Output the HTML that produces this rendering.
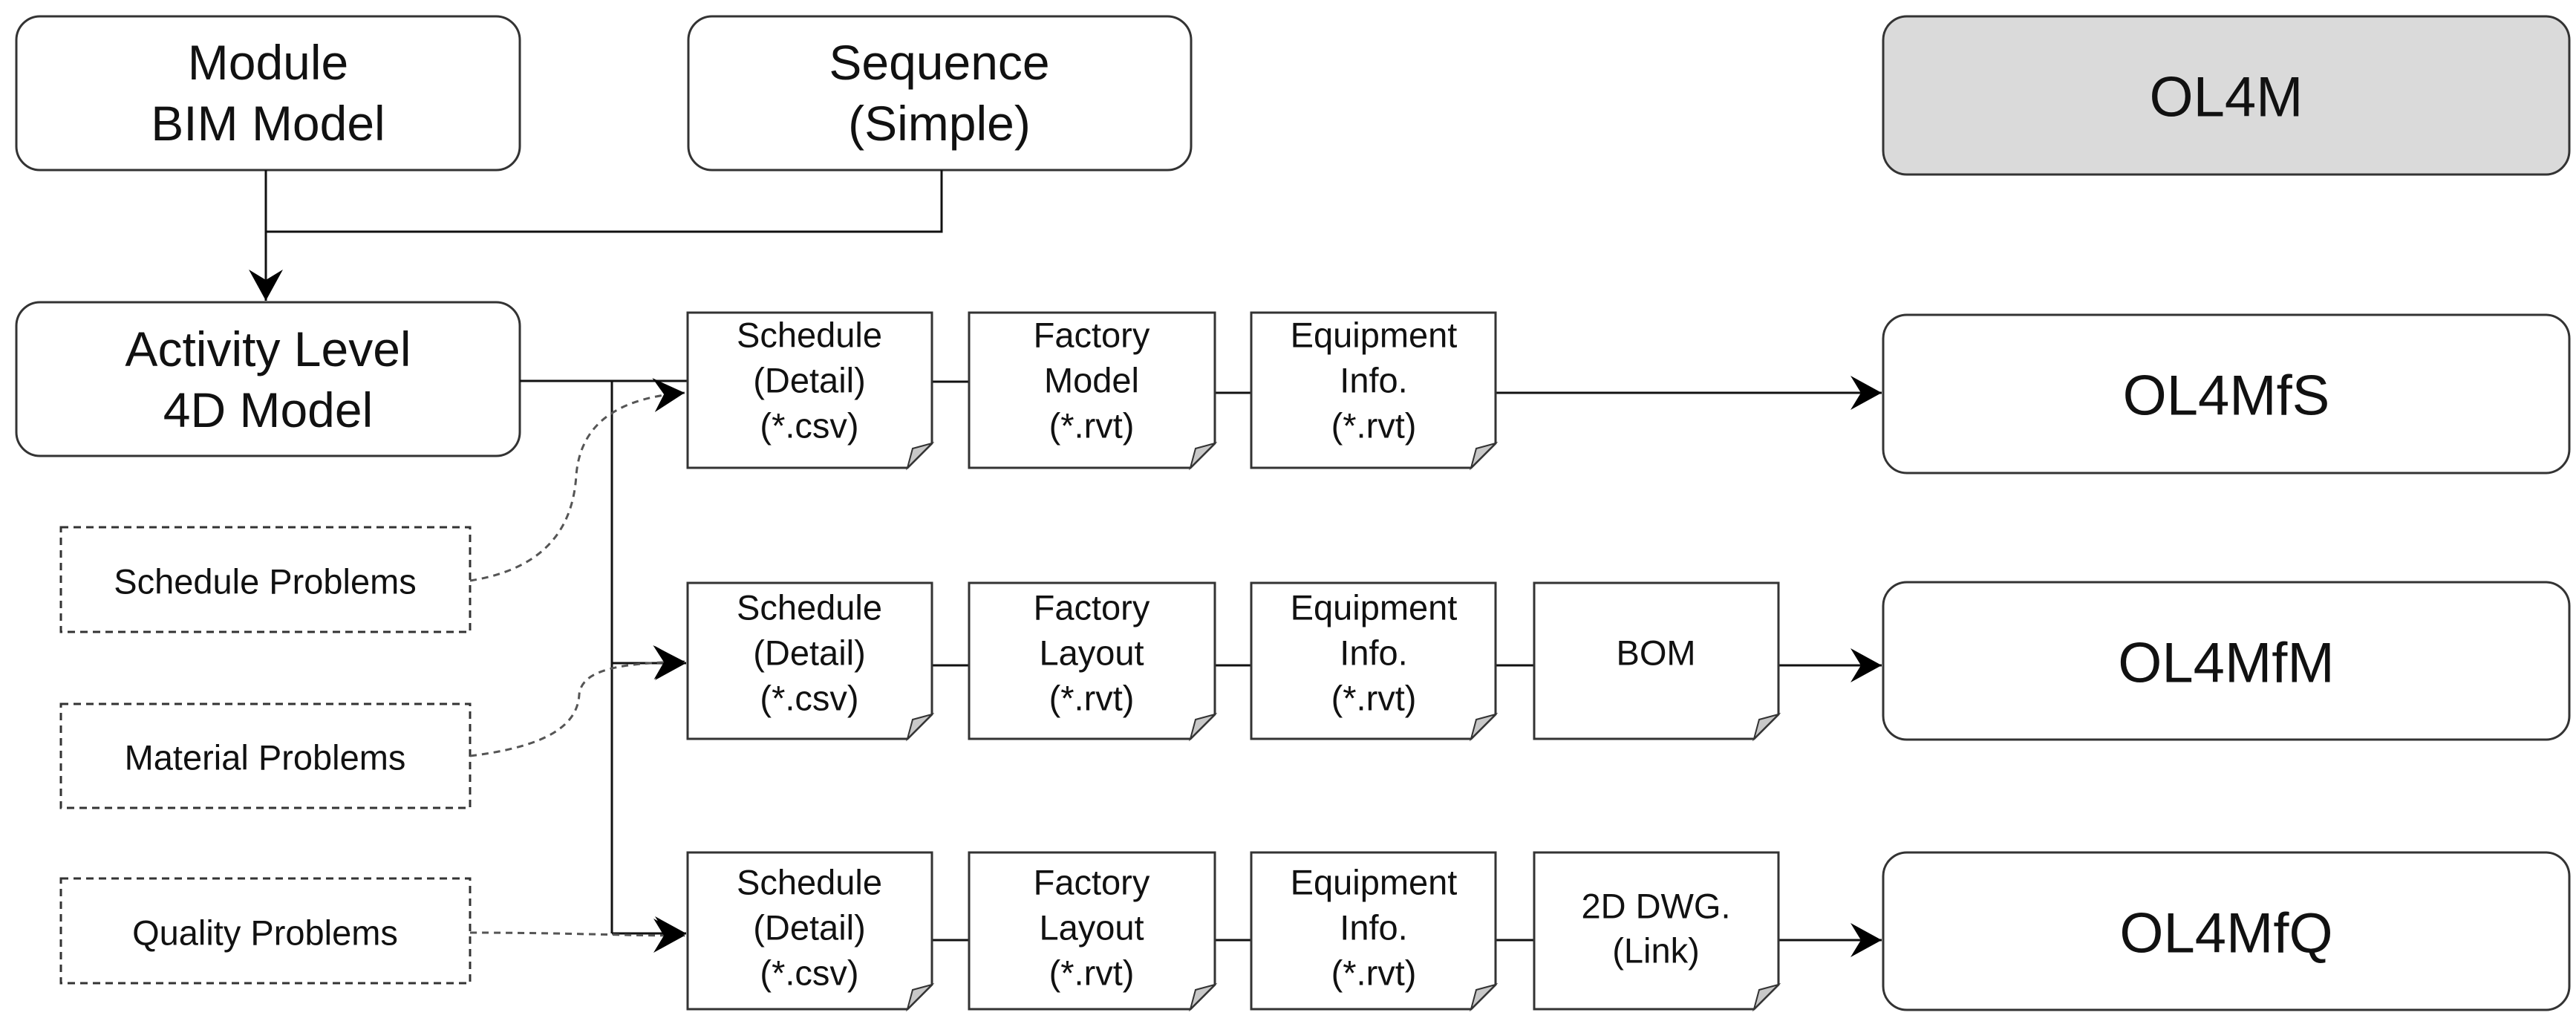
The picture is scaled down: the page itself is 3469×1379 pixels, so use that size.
<!DOCTYPE html>
<html><head><meta charset="utf-8"><style>
html,body{margin:0;padding:0;background:#fff}
svg{display:block}
text{font-family:"Liberation Sans","Noto Sans CJK KR",sans-serif;fill:#111;text-anchor:middle;dominant-baseline:central}
</style></head><body>
<svg width="3469" height="1379" viewBox="0 0 3469 1379" xmlns="http://www.w3.org/2000/svg">
<defs>
<marker id="ah" markerWidth="44" markerHeight="46" refX="42" refY="23" orient="auto" markerUnits="userSpaceOnUse">
<path d="M0,0 L42,23 L0,46 L14,23 Z" fill="#000"/>
</marker>
</defs>
<g stroke="#333" stroke-width="3" fill="#fff">
<rect x="22" y="22" width="678" height="207" rx="32"/>
<rect x="927" y="22" width="677" height="207" rx="32"/>
<rect x="2536" y="22" width="924" height="213" rx="32" fill="#dadada"/>
<rect x="22" y="407" width="678" height="207" rx="32"/>
<rect x="2536" y="424" width="924" height="213" rx="32"/>
<rect x="2536" y="784" width="924" height="212" rx="32"/>
<rect x="2536" y="1148" width="924" height="212" rx="32"/>
</g>
<g stroke="#333" stroke-width="3" fill="#fff" stroke-dasharray="10,7">
<rect x="82" y="710" width="551" height="141"/>
<rect x="82" y="948" width="551" height="140"/>
<rect x="82" y="1183" width="551" height="141"/>
</g>
<g stroke="#111" stroke-width="3" fill="none">
<path d="M358,229 V405" marker-end="url(#ah)"/>
<path d="M358,312 H1268 V229"/>
<path d="M700,513 H926"/>
<path d="M824,513 V1257"/>
<path d="M824,893 H924" marker-end="url(#ah)"/>
<path d="M824,1257 H924" marker-end="url(#ah)"/>
<path d="M1255,514 H1305"/>
<path d="M1636,529 H1685"/>
<path d="M2014,529 H2534" marker-end="url(#ah)"/>
<path d="M1255,896 H1305"/><path d="M1636,896 H1685"/><path d="M2014,896 H2066"/>
<path d="M2395,896 H2534" marker-end="url(#ah)"/>
<path d="M1255,1266 H1305"/><path d="M1636,1266 H1685"/><path d="M2014,1266 H2066"/>
<path d="M2395,1266 H2534" marker-end="url(#ah)"/>
</g>
<g stroke="#555" stroke-width="3" fill="none" stroke-dasharray="9,7">
<path d="M633,782 C740,765 772,705 776,640 C782,565 840,535 922,529" marker-end="url(#ah)"/>
<path d="M633,1018 C740,1005 778,975 780,935 C784,900 840,893 922,891" marker-end="url(#ah)"/>
<path d="M633,1256 C760,1256 840,1260 922,1260" marker-end="url(#ah)"/>
</g>
<g stroke="#333" stroke-width="3" fill="#fff">
<path d="M926,421 H1255 V597 L1222,630 H926 Z"/>
<path d="M1305,421 H1636 V597 L1603,630 H1305 Z"/>
<path d="M1685,421 H2014 V597 L1981,630 H1685 Z"/>
<path d="M926,785 H1255 V962 L1222,995 H926 Z"/>
<path d="M1305,785 H1636 V962 L1603,995 H1305 Z"/>
<path d="M1685,785 H2014 V962 L1981,995 H1685 Z"/>
<path d="M2066,785 H2395 V962 L2362,995 H2066 Z"/>
<path d="M926,1148 H1255 V1326 L1222,1359 H926 Z"/>
<path d="M1305,1148 H1636 V1326 L1603,1359 H1305 Z"/>
<path d="M1685,1148 H2014 V1326 L1981,1359 H1685 Z"/>
<path d="M2066,1148 H2395 V1326 L2362,1359 H2066 Z"/>
</g>
<g stroke="#333" stroke-width="2" fill="#c8c8c8">
<path d="M1255,597 L1222,630 L1229,604 Z"/>
<path d="M1636,597 L1603,630 L1610,604 Z"/>
<path d="M2014,597 L1981,630 L1988,604 Z"/>
<path d="M1255,962 L1222,995 L1229,969 Z"/>
<path d="M1636,962 L1603,995 L1610,969 Z"/>
<path d="M2014,962 L1981,995 L1988,969 Z"/>
<path d="M2395,962 L2362,995 L2369,969 Z"/>
<path d="M1255,1326 L1222,1359 L1229,1333 Z"/>
<path d="M1636,1326 L1603,1359 L1610,1333 Z"/>
<path d="M2014,1326 L1981,1359 L1988,1333 Z"/>
<path d="M2395,1326 L2362,1359 L2369,1333 Z"/>
</g>
<g font-size="66">
<text x="361" y="84">Module</text><text x="361" y="166">BIM Model</text>
<text x="1265" y="84">Sequence</text><text x="1265" y="166">(Simple)</text>
<text x="361" y="470">Activity Level</text><text x="361" y="552">4D Model</text>
</g>
<g font-size="76">
<text x="2998" y="131">OL4M</text>
<text x="2998" y="533">OL4MfS</text>
<text x="2998" y="893">OL4MfM</text>
<text x="2998" y="1257">OL4MfQ</text>
</g>
<g font-size="47">
<text x="357" y="783">Schedule Problems</text>
<text x="357" y="1020">Material Problems</text>
<text x="357" y="1256">Quality Problems</text>
</g>
<g font-size="47">
<text x="1090" y="451">Schedule</text><text x="1090" y="512">(Detail)</text><text x="1090" y="573">(*.csv)</text>
<text x="1470" y="451">Factory</text><text x="1470" y="512">Model</text><text x="1470" y="573">(*.rvt)</text>
<text x="1850" y="451">Equipment</text><text x="1850" y="512">Info.</text><text x="1850" y="573">(*.rvt)</text>
<text x="1090" y="818">Schedule</text><text x="1090" y="879">(Detail)</text><text x="1090" y="940">(*.csv)</text>
<text x="1470" y="818">Factory</text><text x="1470" y="879">Layout</text><text x="1470" y="940">(*.rvt)</text>
<text x="1850" y="818">Equipment</text><text x="1850" y="879">Info.</text><text x="1850" y="940">(*.rvt)</text>
<text x="2230" y="879">BOM</text>
<text x="1090" y="1188">Schedule</text><text x="1090" y="1249">(Detail)</text><text x="1090" y="1310">(*.csv)</text>
<text x="1470" y="1188">Factory</text><text x="1470" y="1249">Layout</text><text x="1470" y="1310">(*.rvt)</text>
<text x="1850" y="1188">Equipment</text><text x="1850" y="1249">Info.</text><text x="1850" y="1310">(*.rvt)</text>
<text x="2230" y="1220">2D DWG.</text><text x="2230" y="1280">(Link)</text>
</g>
</svg>
</body></html>
